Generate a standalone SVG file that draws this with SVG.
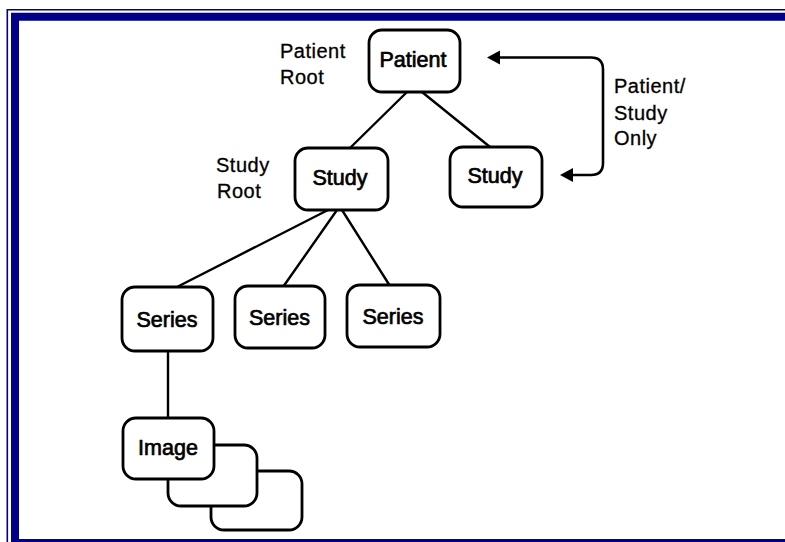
<svg xmlns="http://www.w3.org/2000/svg" width="785" height="542" viewBox="0 0 785 542">
  <defs>
    <style>
      .frame-thin { fill: none; stroke: #000088; stroke-width: 1.6; }
      .frame-thick { fill: none; stroke: #000088; stroke-width: 8; }
      .box { fill: #ffffff; stroke: #000000; stroke-width: 2.8; }
      .edge { fill: none; stroke: #000000; stroke-width: 2.4; stroke-linecap: round; }
      .loop { fill: none; stroke: #000000; stroke-width: 2.6; }
      .node-text { font-family: "Liberation Sans", Arial, sans-serif; font-size: 21.5px; fill: #000000; stroke: #000000; stroke-width: 0.7; text-anchor: middle; }
      .label { font-family: "Liberation Sans", Arial, sans-serif; font-size: 20px; letter-spacing: 0.5px; fill: #000000; stroke: #000000; stroke-width: 0.3; }
    </style>
    <marker id="head" markerUnits="userSpaceOnUse" markerWidth="14" markerHeight="16" viewBox="0 -8 14 16" refX="1" refY="0" orient="auto-start-reverse">
      <path d="M0,-7 L13,0 L0,7 z" fill="#000000"/>
    </marker>
  </defs>

  <!-- page background and double border -->
  <rect x="0" y="0" width="785" height="542" fill="#ffffff"/>
  <g id="border">
    <path class="frame-thin" d="M7.3,542 V9.8 H785"/>
    <path class="frame-thick" d="M15,542 V16.7 H785"/>
    <rect x="11" y="539" width="774" height="3" fill="#000088"/>
  </g>

  <!-- tree connectors -->
  <g id="connectors">
    <line class="edge" x1="407" y1="92" x2="350" y2="148"/>
    <line class="edge" x1="422" y1="92" x2="490" y2="147"/>
    <line class="edge" x1="328" y1="210" x2="175" y2="288"/>
    <line class="edge" x1="337" y1="210" x2="283" y2="287"/>
    <line class="edge" x1="342" y1="210" x2="390" y2="286"/>
    <line class="edge" x1="168" y1="351" x2="168" y2="418"/>
    <path class="loop" d="M499,57.5 H591 Q603,57.5 603,69.5 V163 Q603,175 591,175 H572" marker-start="url(#head)" marker-end="url(#head)"/>
  </g>

  <!-- labels -->
  <g id="labels">
    <text class="label" x="280" y="58">Patient</text>
    <text class="label" x="280" y="84">Root</text>
    <text class="label" x="216" y="172">Study</text>
    <text class="label" x="217" y="198">Root</text>
    <text class="label" x="614" y="93">Patient/</text>
    <text class="label" x="614" y="120">Study</text>
    <text class="label" x="614" y="145">Only</text>
  </g>

  <g id="patient">
    <rect class="box" x="369" y="30" width="91" height="62" rx="13"/>
    <text class="node-text" x="413" y="67">Patient</text>
  </g>

  <g id="study-root">
    <rect class="box" x="295" y="148" width="93" height="62" rx="13"/>
    <text class="node-text" x="340" y="185">Study</text>
  </g>

  <g id="study-only">
    <rect class="box" x="450" y="147" width="92" height="60" rx="13"/>
    <text class="node-text" x="495" y="183">Study</text>
  </g>

  <g id="series-1">
    <rect class="box" x="122" y="287" width="91" height="64" rx="13"/>
    <text class="node-text" x="167" y="327">Series</text>
  </g>

  <g id="series-2">
    <rect class="box" x="235" y="286" width="90" height="62" rx="13"/>
    <text class="node-text" x="279.5" y="325">Series</text>
  </g>

  <g id="series-3">
    <rect class="box" x="347" y="285" width="93" height="62" rx="13"/>
    <text class="node-text" x="393" y="324">Series</text>
  </g>

  <!-- image stack: back cards first so front cards cover them -->
  <g id="image-3">
    <rect class="box" x="211" y="471" width="91" height="59" rx="13"/>
  </g>
  <g id="image-2">
    <rect class="box" x="168" y="445" width="89" height="61" rx="13"/>
  </g>
  <g id="image-1">
    <rect class="box" x="123" y="418" width="91" height="61" rx="13"/>
    <text class="node-text" x="168" y="455">Image</text>
  </g>
</svg>
